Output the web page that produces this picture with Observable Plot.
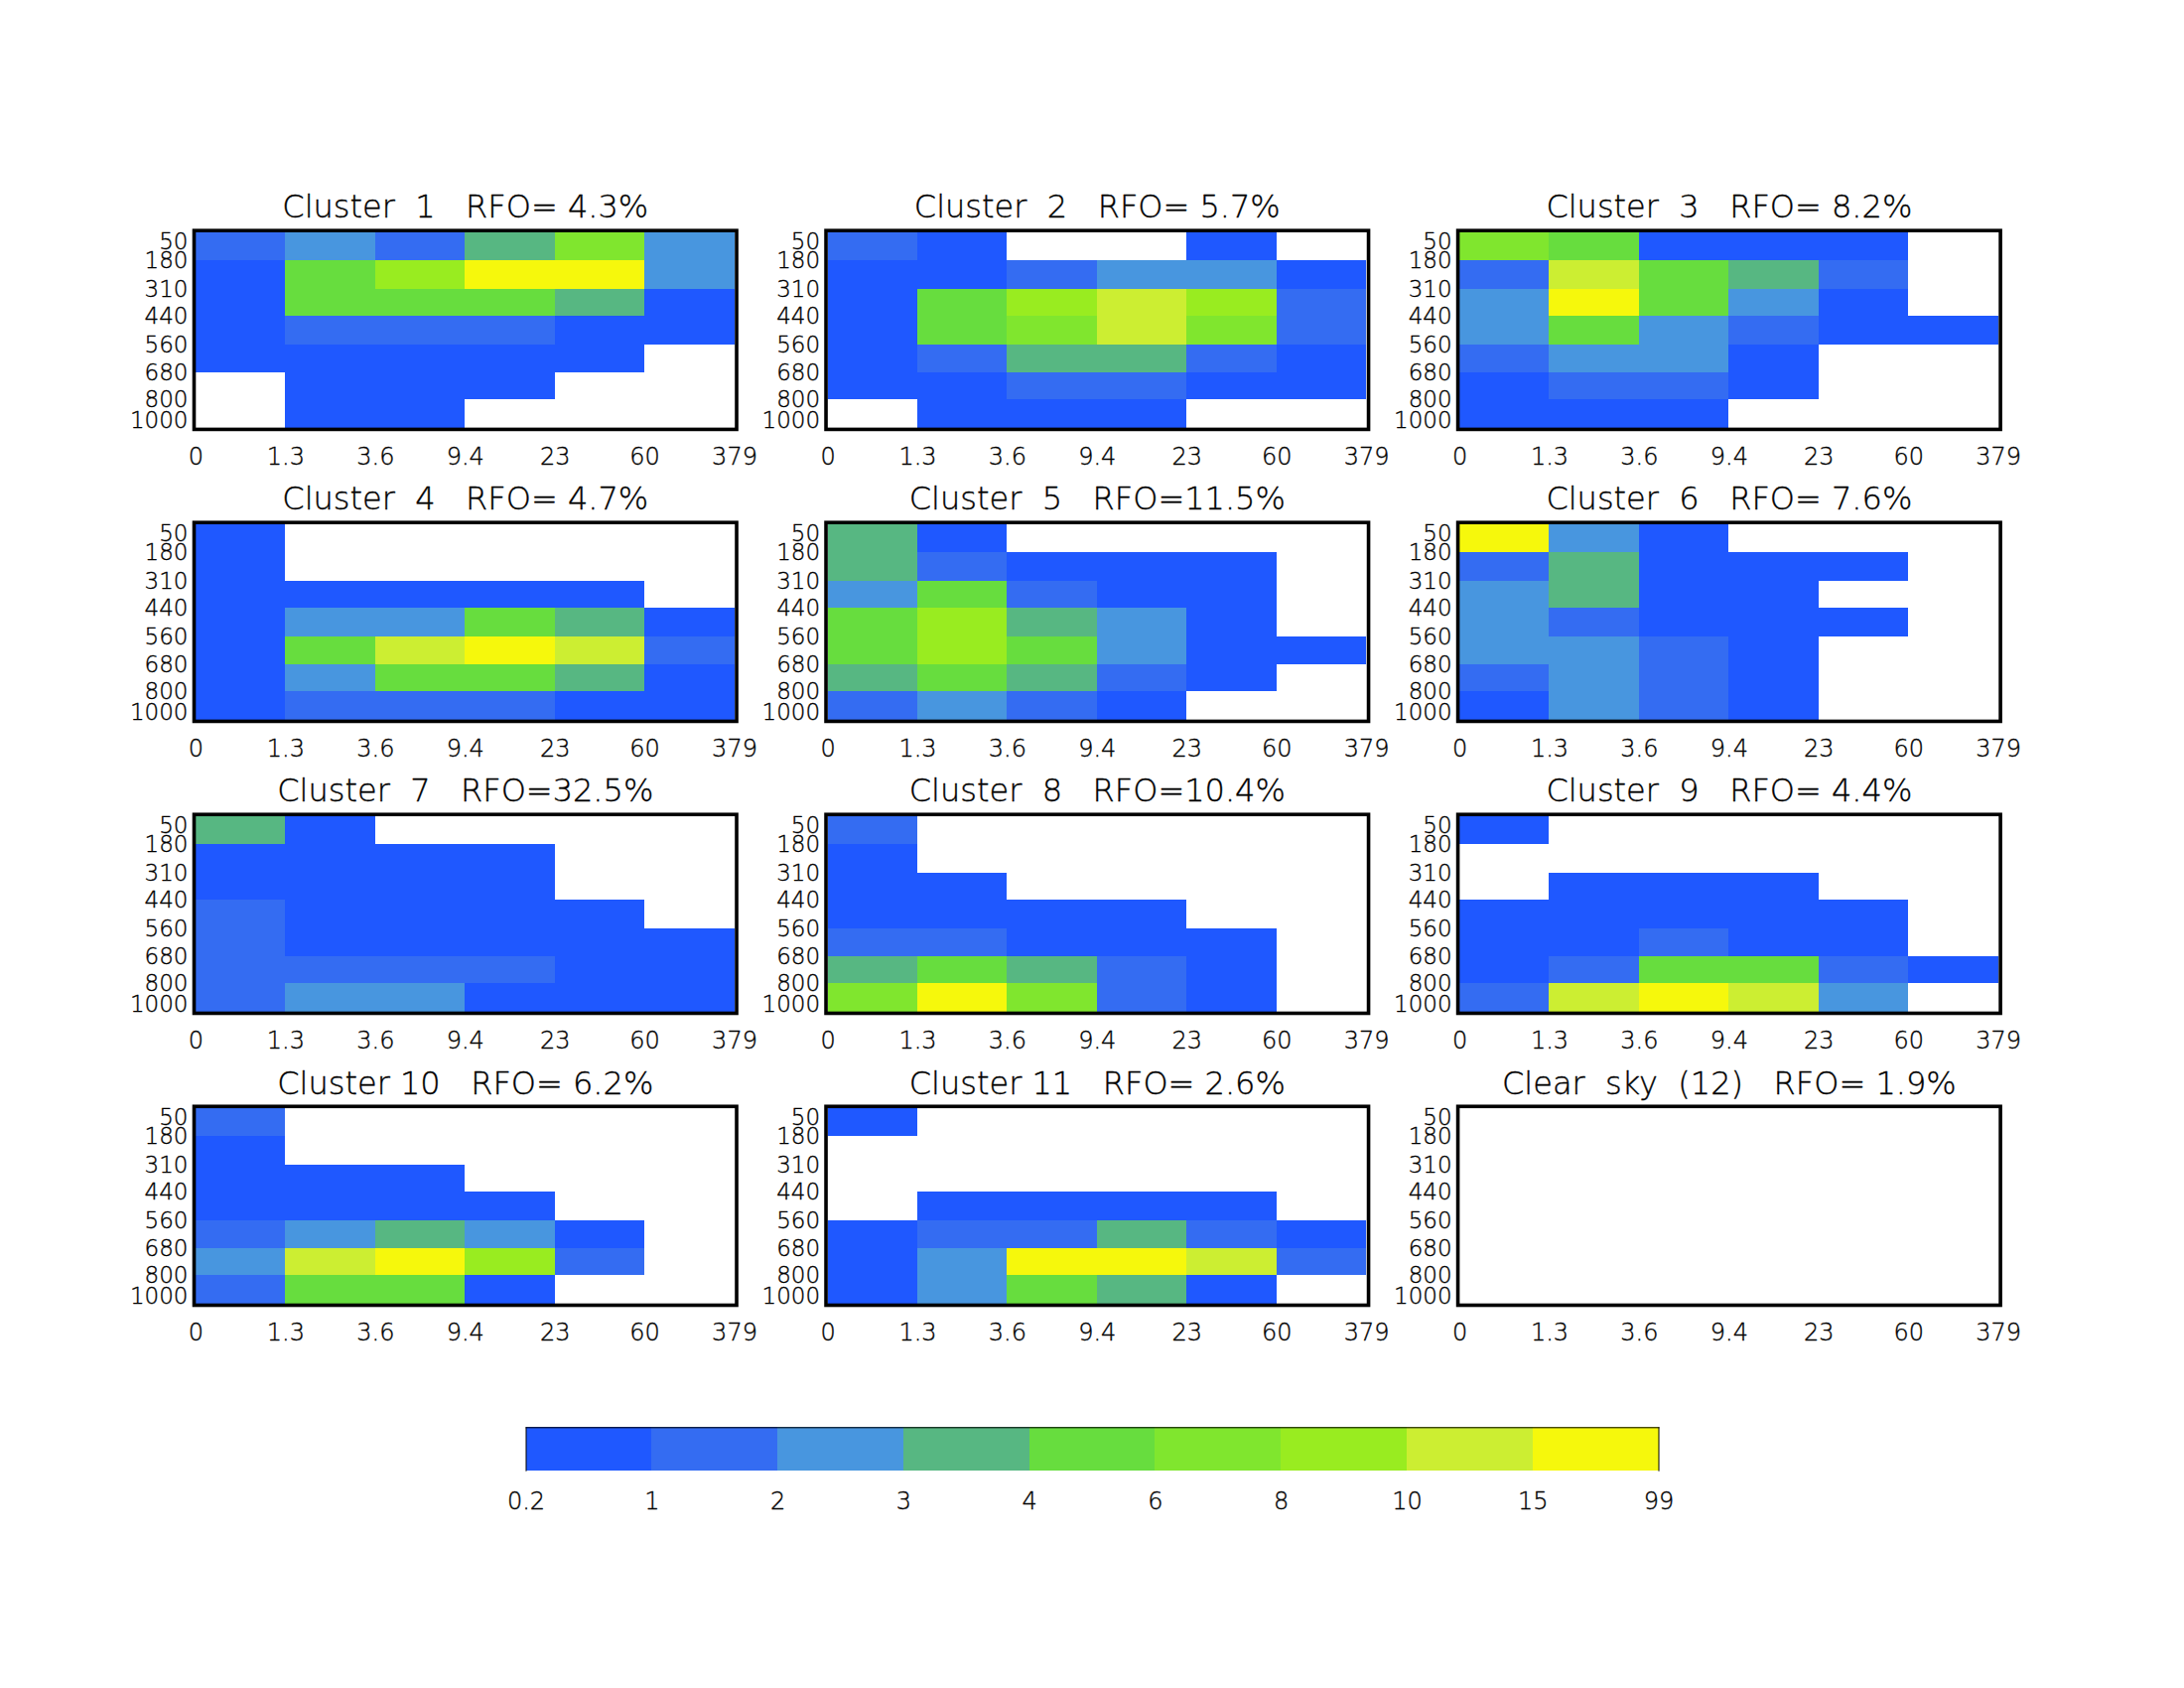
<!DOCTYPE html>
<html>
<head>
<meta charset="utf-8">
<script src="https://cdn.jsdelivr.net/npm/d3@7"></script>
<script src="https://cdn.jsdelivr.net/npm/@observablehq/plot@0.6"></script>
<style>
  html, body { margin: 0; padding: 0; background: #fff; }
  svg { display: block; }
</style>
</head>
<body>
<script>
const _ = null;
// Cloud-optical-depth bin edges, pressure-level edges and colour-bar edges
const tauEdges = [0, 1.3, 3.6, 9.4, 23, 60, 379];
const pressureEdges = [50, 180, 310, 440, 560, 680, 800, 1000];
const legendEdges = [0.2, 1, 2, 3, 4, 6, 8, 10, 15, 99];
const colors = ["#1f58ff", "#346cf2", "#4896df", "#57b782", "#67dd3e", "#80e62e", "#99ec20", "#ccee32", "#f6f80c"];

const titles = [
  "Cluster  1   RFO= 4.3%", "Cluster  2   RFO= 5.7%", "Cluster  3   RFO= 8.2%",
  "Cluster  4   RFO= 4.7%", "Cluster  5   RFO=11.5%", "Cluster  6   RFO= 7.6%",
  "Cluster  7   RFO=32.5%", "Cluster  8   RFO=10.4%", "Cluster  9   RFO= 4.4%",
  "Cluster 10   RFO= 6.2%", "Cluster 11   RFO= 2.6%", "Clear  sky  (12)   RFO= 1.9%"
];

// Frequency (%) per pressure row (top to bottom) and optical-depth column, read to the colour bin
const cluster1 = [
  [1.5, 2.5, 1.5, 3.5, 7, 2.5],
  [0.5, 5, 9, 20, 20, 2.5],
  [0.5, 5, 5, 5, 3.5, 0.5],
  [0.5, 1.5, 1.5, 1.5, 0.5, 0.5],
  [0.5, 0.5, 0.5, 0.5, 0.5, _],
  [_, 0.5, 0.5, 0.5, _, _],
  [_, 0.5, 0.5, _, _, _]
];
const cluster2 = [
  [1.5, 0.5, _, _, 0.5, _],
  [0.5, 0.5, 1.5, 2.5, 2.5, 0.5],
  [0.5, 5, 9, 12, 9, 1.5],
  [0.5, 5, 7, 12, 7, 1.5],
  [0.5, 1.5, 3.5, 3.5, 1.5, 0.5],
  [0.5, 0.5, 1.5, 1.5, 0.5, 0.5],
  [_, 0.5, 0.5, 0.5, _, _]
];
const cluster3 = [
  [7, 5, 0.5, 0.5, 0.5, _],
  [1.5, 12, 5, 3.5, 1.5, _],
  [2.5, 20, 5, 2.5, 0.5, _],
  [2.5, 5, 2.5, 1.5, 0.5, 0.5],
  [1.5, 2.5, 2.5, 0.5, _, _],
  [0.5, 1.5, 1.5, 0.5, _, _],
  [0.5, 0.5, 0.5, _, _, _]
];
const cluster4 = [
  [0.5, _, _, _, _, _],
  [0.5, _, _, _, _, _],
  [0.5, 0.5, 0.5, 0.5, 0.5, _],
  [0.5, 2.5, 2.5, 5, 3.5, 0.5],
  [0.5, 5, 12, 20, 12, 1.5],
  [0.5, 2.5, 5, 5, 3.5, 0.5],
  [0.5, 1.5, 1.5, 1.5, 0.5, 0.5]
];
const cluster5 = [
  [3.5, 0.5, _, _, _, _],
  [3.5, 1.5, 0.5, 0.5, 0.5, _],
  [2.5, 5, 1.5, 0.5, 0.5, _],
  [5, 9, 3.5, 2.5, 0.5, _],
  [5, 9, 5, 2.5, 0.5, 0.5],
  [3.5, 5, 3.5, 1.5, 0.5, _],
  [1.5, 2.5, 1.5, 0.5, _, _]
];
const cluster6 = [
  [20, 2.5, 0.5, _, _, _],
  [1.5, 3.5, 0.5, 0.5, 0.5, _],
  [2.5, 3.5, 0.5, 0.5, _, _],
  [2.5, 1.5, 0.5, 0.5, 0.5, _],
  [2.5, 2.5, 1.5, 0.5, _, _],
  [1.5, 2.5, 1.5, 0.5, _, _],
  [0.5, 2.5, 1.5, 0.5, _, _]
];
const cluster7 = [
  [3.5, 0.5, _, _, _, _],
  [0.5, 0.5, 0.5, 0.5, _, _],
  [0.5, 0.5, 0.5, 0.5, _, _],
  [1.5, 0.5, 0.5, 0.5, 0.5, _],
  [1.5, 0.5, 0.5, 0.5, 0.5, 0.5],
  [1.5, 1.5, 1.5, 1.5, 0.5, 0.5],
  [1.5, 2.5, 2.5, 0.5, 0.5, 0.5]
];
const cluster8 = [
  [1.5, _, _, _, _, _],
  [0.5, _, _, _, _, _],
  [0.5, 0.5, _, _, _, _],
  [0.5, 0.5, 0.5, 0.5, _, _],
  [1.5, 1.5, 0.5, 0.5, 0.5, _],
  [3.5, 5, 3.5, 1.5, 0.5, _],
  [7, 20, 7, 1.5, 0.5, _]
];
const cluster9 = [
  [0.5, _, _, _, _, _],
  [_, _, _, _, _, _],
  [_, 0.5, 0.5, 0.5, _, _],
  [0.5, 0.5, 0.5, 0.5, 0.5, _],
  [0.5, 0.5, 1.5, 0.5, 0.5, _],
  [0.5, 1.5, 5, 5, 1.5, 0.5],
  [1.5, 12, 20, 12, 2.5, _]
];
const cluster10 = [
  [1.5, _, _, _, _, _],
  [0.5, _, _, _, _, _],
  [0.5, 0.5, 0.5, _, _, _],
  [0.5, 0.5, 0.5, 0.5, _, _],
  [1.5, 2.5, 3.5, 2.5, 0.5, _],
  [2.5, 12, 20, 9, 1.5, _],
  [1.5, 5, 5, 0.5, _, _]
];
const cluster11 = [
  [0.5, _, _, _, _, _],
  [_, _, _, _, _, _],
  [_, _, _, _, _, _],
  [_, 0.5, 0.5, 0.5, 0.5, _],
  [0.5, 1.5, 1.5, 3.5, 1.5, 0.5],
  [0.5, 2.5, 20, 20, 12, 1.5],
  [0.5, 2.5, 5, 3.5, 0.5, _]
];
const clearSky = [
  [_, _, _, _, _, _], [_, _, _, _, _, _], [_, _, _, _, _, _], [_, _, _, _, _, _],
  [_, _, _, _, _, _], [_, _, _, _, _, _], [_, _, _, _, _, _]
];
const grids = [cluster1, cluster2, cluster3, cluster4, cluster5, cluster6,
               cluster7, cluster8, cluster9, cluster10, cluster11, clearSky];

const colorScale = { type: "threshold", domain: legendEdges.slice(1, -1), range: colors };

const panels = titles.map((title, i) => ({ title, fx: i % 3, fy: Math.floor(i / 3) }));
const cells = grids.flatMap((grid, i) => grid.flatMap((row, r) => row.map((value, c) => ({
  fx: i % 3, fy: Math.floor(i / 3), value,
  x1: tauEdges[c], x2: tauEdges[c + 1], y1: pressureEdges[r], y2: pressureEdges[r + 1]
})))).filter(d => d.value != null);
const xTicks = panels.flatMap(p => tauEdges.map(v => ({ ...p, v })));
const yTicks = panels.flatMap(p => pressureEdges.map(v => ({ ...p, v })));
const yMiddle = yTicks.filter(d => d.v !== 50 && d.v !== 1000);

// The bins are drawn at even widths, whatever their values: each edge maps to its position
const evenly = edges => d3.scaleLinear(edges, edges.map((e, i) => i));
const tauIndex = evenly(tauEdges);
const legendIndex = evenly(legendEdges);
const pressureRow = d3.scaleLinear(pressureEdges, [0, 30, 59, 86, 115, 143, 170, 200.3]);

const fontStyle = { fontFamily: "'DejaVu Sans', sans-serif", fontWeight: 200, background: "#fff" };
const inkFont = { fill: "#000", stroke: "#000", strokeWidth: 0.35, lineAnchor: "middle" };
const tickFont = { ...inkFont, fontSize: 24 };
const plotTop = 231.7;

const chart = Plot.plot({
  width: 2200,
  height: 1400,
  marginLeft: 197,
  marginRight: 187.4,
  marginTop: plotTop,
  marginBottom: 86,
  style: fontStyle,
  fx: { axis: null, domain: [0, 1, 2], paddingInner: 0.1477, paddingOuter: 0, round: false },
  fy: { axis: null, domain: [0, 1, 2, 3], paddingInner: 0.319, paddingOuter: 0, round: false },
  x: { axis: null, transform: v => tauIndex(v), domain: [0, 6] },
  y: { axis: null, transform: v => pressureRow(v), domain: [0, 200.3], range: [plotTop, plotTop + 200.3] },
  color: colorScale,
  marks: [
    Plot.rect(cells, { fx: "fx", fy: "fy", x1: "x1", x2: "x2", y1: "y1", y2: "y2", fill: "value", shapeRendering: "crispEdges" }),
    Plot.frame({ stroke: "#000", strokeWidth: 3.6, insetLeft: -2, insetRight: -2 }),
    Plot.text(panels, { fx: "fx", fy: "fy", text: "title", frameAnchor: "top", dy: -23, ...inkFont, fontSize: 32 }),
    Plot.text(xTicks, { fx: "fx", fy: "fy", x: "v", text: d => String(d.v), frameAnchor: "bottom", dy: 28, textAnchor: "middle", ...tickFont }),
    Plot.text(yMiddle, { fx: "fx", fy: "fy", y: "v", text: d => String(d.v), frameAnchor: "left", textAnchor: "end", dx: -8, ...tickFont, fontSize: 23 }),
    Plot.text(yTicks.filter(d => d.v === 50), { fx: "fx", fy: "fy", y: "v", text: d => String(d.v), frameAnchor: "left", textAnchor: "end", dx: -8, dy: 11, ...tickFont, fontSize: 23 }),
    Plot.text(yTicks.filter(d => d.v === 1000), { fx: "fx", fy: "fy", y: "v", text: d => String(d.v), frameAnchor: "left", textAnchor: "end", dx: -8, dy: -9, ...tickFont, fontSize: 23 })
  ]
});
document.body.appendChild(chart);

const legendBins = colors.map((c, i) => ({ x1: legendEdges[i], x2: legendEdges[i + 1] }));
const legend = Plot.plot({
  width: 2200,
  height: 300,
  marginLeft: 529.5,
  marginRight: 529.5,
  marginTop: 37.3,
  marginBottom: 219.3,
  style: fontStyle,
  x: { axis: null, transform: v => legendIndex(v), domain: [0, 9] },
  color: colorScale,
  marks: [
    Plot.rect(legendBins, { x1: "x1", x2: "x2", fill: "x1", shapeRendering: "crispEdges" }),
    Plot.frame({ anchor: "top", stroke: "#000", strokeWidth: 1 }),
    Plot.frame({ anchor: "left", stroke: "#000", strokeWidth: 1 }),
    Plot.frame({ anchor: "right", stroke: "#000", strokeWidth: 1 }),
    Plot.text(legendEdges, { x: d => d, text: d => String(d), frameAnchor: "bottom", dy: 31, textAnchor: "middle", ...tickFont })
  ]
});
document.body.appendChild(legend);
</script>
</body>
</html>
